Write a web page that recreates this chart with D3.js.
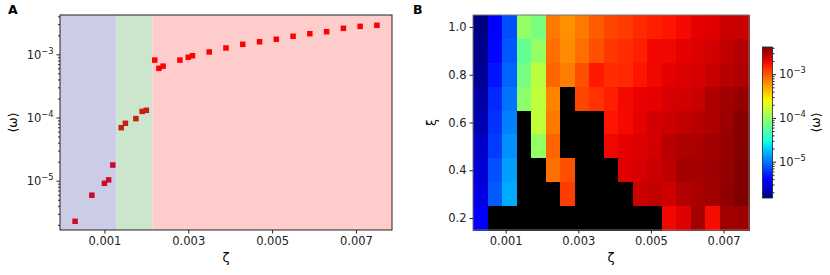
<!DOCTYPE html>
<html>
<head>
<meta charset="utf-8">
<script src="https://cdn.jsdelivr.net/npm/d3@7"></script>
<style>
  body { margin: 0; background: #fff; }
  svg text { font-family: "DejaVu Sans", sans-serif; }
</style>
</head>
<body>
<div id="chart"></div>
<script>
// ---- data, panel A ----
const zetaA = [0.0003, 0.0007, 0.0010, 0.0011, 0.0012, 0.0014, 0.0015, 0.00175, 0.0019, 0.0020,
               0.0022, 0.0023, 0.0024, 0.0028, 0.0030, 0.0031, 0.0035, 0.0039, 0.0043, 0.0047,
               0.0051, 0.0055, 0.0059, 0.0063, 0.0067, 0.0071, 0.0075];
const omegaA = [2.28e-6, 5.9e-6, 9.1e-6, 1.03e-5, 1.77e-5, 6.9e-5, 8.1e-5, 9.6e-5, 1.25e-4, 1.30e-4,
                8.1e-4, 6.0e-4, 6.5e-4, 8.1e-4, 9.0e-4, 9.5e-4, 1.09e-3, 1.26e-3, 1.44e-3, 1.58e-3,
                1.73e-3, 1.93e-3, 2.12e-3, 2.28e-3, 2.58e-3, 2.77e-3, 2.88e-3];
// phase regions (upper edges in zeta)
const bandEdges = [0.00129, 0.00214];
const bandColors = ["#ccccE6", "#cce6cc", "#ffcccc"];
const markerColors = ["#cc0a2a", "#c81e12", "#ff0000"];

// ---- data, panel B ----
const zetaGrid = [0.0003, 0.0007, 0.0011, 0.0015, 0.0019, 0.0023, 0.0027, 0.0031, 0.0035, 0.0039,
                  0.0043, 0.0047, 0.0051, 0.0055, 0.0059, 0.0063, 0.0067, 0.0071, 0.0075];
const xiGrid = [1.0, 0.9, 0.8, 0.7, 0.6, 0.5, 0.4, 0.3, 0.2];
// rows follow xiGrid, null = no value (drawn black)
const omegaGrid = [
  [1.48e-6, 3.69e-6, 7.4e-6, 1.0e-4, 7.6e-5, 7.4e-4, 6.1e-4, 7.4e-4, 9.6e-4, 1.13e-3, 1.23e-3, 1.46e-3, 1.58e-3, 1.73e-3, 1.88e-3, 2.07e-3, 2.14e-3, 2.45e-3, 2.53e-3],
  [1.61e-6, 4.16e-6, 8.0e-6, 6.2e-5, 1.0e-4, 8.1e-4, 6.3e-4, 8.1e-4, 1.04e-3, 1.28e-3, 1.40e-3, 1.58e-3, 1.90e-3, 1.93e-3, 2.05e-3, 2.21e-3, 2.37e-3, 2.62e-3, 2.92e-3],
  [1.72e-6, 4.68e-6, 8.7e-6, 7.6e-5, 1.43e-4, 8.8e-4, 7.1e-4, 1.04e-3, 1.66e-3, 1.40e-3, 1.46e-3, 1.73e-3, 1.93e-3, 2.07e-3, 2.21e-3, 2.29e-3, 2.53e-3, 2.82e-3, 3.01e-3],
  [1.91e-6, 5.44e-6, 9.8e-6, 9.2e-5, 1.49e-4, 6.8e-4, null, 1.13e-3, 1.34e-3, 1.58e-3, 1.88e-3, 2.0e-3, 2.07e-3, 2.29e-3, 2.37e-3, 2.53e-3, 3.01e-3, 3.34e-3, 3.58e-3],
  [2.11e-6, 5.89e-6, 1.09e-5, null, 1.49e-4, 7.4e-4, null, null, null, 1.73e-3, 1.88e-3, 2.05e-3, 2.37e-3, 2.45e-3, 2.62e-3, 2.82e-3, 3.01e-3, 3.44e-3, 3.97e-3],
  [2.42e-6, 6.38e-6, 1.23e-5, null, 1.0e-4, 8.8e-4, null, null, null, 1.93e-3, 2.07e-3, 2.21e-3, 2.37e-3, 2.82e-3, 3.01e-3, 3.10e-3, 3.34e-3, 3.58e-3, 3.97e-3],
  [2.68e-6, 7.42e-6, 1.39e-5, null, null, 8.1e-4, 1.04e-3, null, null, null, 2.14e-3, 2.29e-3, 2.53e-3, 2.72e-3, 3.24e-3, 3.24e-3, 3.44e-3, 3.60e-3, 4.10e-3],
  [2.88e-6, 8.03e-6, 1.5e-5, null, null, null, 1.23e-3, null, null, null, null, 2.45e-3, 2.62e-3, 2.45e-3, 2.92e-3, 3.10e-3, 3.34e-3, 3.70e-3, 4.17e-3],
  [3.43e-6, null, null, null, null, null, null, null, null, null, null, null, null, 1.90e-3, 2.14e-3, 3.24e-3, 1.85e-3, 3.34e-3, 3.44e-3]
];
const colorRange = [1.48e-6, 4.17e-3];

const xTicks = [0.001, 0.003, 0.005, 0.007];
const logTicks = [1e-5, 1e-4, 1e-3];
const xiTicks = [0.2, 0.4, 0.6, 0.8, 1.0];

// ---- layout ----
const width = 830, height = 275;
const fs = 11.5;

const svg = d3.select("#chart").append("svg")
  .attr("width", width).attr("height", height);

// matplotlib jet
const jetSeg = {
  r: [[0, 0], [0.35, 0], [0.66, 1], [0.89, 1], [1, 0.5]],
  g: [[0, 0], [0.125, 0], [0.375, 1], [0.64, 1], [0.91, 0], [1, 0]],
  b: [[0, 0.5], [0.11, 1], [0.34, 1], [0.65, 0], [1, 0]]
};
function seg(pts, t) {
  for (let i = 1; i < pts.length; i++) {
    if (t <= pts[i][0]) {
      const [x0, y0] = pts[i - 1], [x1, y1] = pts[i];
      return y0 + (y1 - y0) * (t - x0) / (x1 - x0);
    }
  }
  return pts[pts.length - 1][1];
}
function jet(t) {
  t = Math.max(0, Math.min(1, t));
  return d3.rgb(seg(jetSeg.r, t) * 255, seg(jetSeg.g, t) * 255, seg(jetSeg.b, t) * 255).formatHex();
}

// minor log ticks between lo and hi
function minorTicks(lo, hi) {
  const out = [];
  for (let e = -7; e <= -1; e++) {
    for (let m = 2; m <= 9; m++) {
      const v = m * Math.pow(10, e);
      if (v >= lo && v <= hi) out.push(v);
    }
  }
  return out;
}

function powLabel(sel) {
  sel.each(function(d) {
    const e = Math.round(Math.log10(d));
    const t = d3.select(this).text("10");
    t.append("tspan").attr("dy", -5).attr("font-size", fs * 0.72)
      .text(String(e).replace("-", "\u2212"));
  });
}

function styleAxis(g) {
  g.attr("font-family", "DejaVu Sans").attr("font-size", fs);
  g.select(".domain").remove();
  g.selectAll(".tick line").attr("stroke", "#222");
  g.selectAll(".tick text").attr("fill", "#222");
}

// ================= panel A =================
const A = { left: 60, right: 392, top: 15, bottom: 230 };
const xA = d3.scaleLinear().domain([-0.00006, 0.00786]).range([A.left, A.right]);
const yA = d3.scaleLog().domain([1.66e-6, 4.19e-3]).range([A.bottom, A.top]);

const gA = svg.append("g");
const edges = [xA.domain()[0], ...bandEdges, xA.domain()[1]];
gA.selectAll(".band").data(bandColors).enter().append("rect")
  .attr("class", "band")
  .attr("x", (d, i) => xA(edges[i]))
  .attr("width", (d, i) => xA(edges[i + 1]) - xA(edges[i]))
  .attr("y", A.top).attr("height", A.bottom - A.top)
  .attr("fill", d => d);

function region(z) {
  let i = 0;
  while (i < bandEdges.length && z > bandEdges[i]) i++;
  return i;
}
const ms = 5.5;
gA.selectAll(".pt").data(zetaA).enter().append("rect")
  .attr("class", "pt")
  .attr("x", d => xA(d) - ms / 2)
  .attr("y", (d, i) => yA(omegaA[i]) - ms / 2)
  .attr("width", ms).attr("height", ms)
  .attr("fill", d => markerColors[region(d)]);

gA.append("rect").attr("x", A.left).attr("y", A.top)
  .attr("width", A.right - A.left).attr("height", A.bottom - A.top)
  .attr("fill", "none").attr("stroke", "#222").attr("stroke-width", 1);

gA.append("g").attr("transform", `translate(0,${A.bottom})`)
  .call(d3.axisBottom(xA).tickValues(xTicks).tickSize(3.5).tickPadding(3).tickFormat(d3.format(".3f")))
  .call(styleAxis);

gA.append("g").attr("transform", `translate(${A.left},0)`)
  .call(d3.axisLeft(yA).tickValues(minorTicks(1.66e-6, 4.19e-3)).tickSize(2).tickFormat(""))
  .call(styleAxis);
gA.append("g").attr("transform", `translate(${A.left},0)`)
  .call(d3.axisLeft(yA).tickValues(logTicks).tickSize(3.5).tickPadding(3))
  .call(styleAxis)
  .selectAll(".tick text").call(powLabel);

gA.append("text").attr("x", (A.left + A.right) / 2).attr("y", 262)
  .attr("text-anchor", "middle").attr("font-size", 13).text("\u03b6");
gA.append("text").attr("transform", `translate(17,${(A.top + A.bottom) / 2}) rotate(-90)`)
  .attr("text-anchor", "middle").attr("font-size", 12.5).text("\u27e8\u03c9\u27e9");
gA.append("text").attr("x", 8).attr("y", 14).attr("font-size", 12.5)
  .attr("font-weight", "bold").text("A");

// ================= panel B =================
const B = { left: 473, right: 749, top: 15, bottom: 230 };
const dz = zetaGrid[1] - zetaGrid[0], dxi = xiGrid[0] - xiGrid[1];
const xB = d3.scaleLinear().domain([zetaGrid[0] - dz / 2, zetaGrid[zetaGrid.length - 1] + dz / 2]).range([B.left, B.right]);
const yB = d3.scaleLinear().domain([xiGrid[xiGrid.length - 1] - dxi / 2, xiGrid[0] + dxi / 2]).range([B.bottom, B.top]);
const cB = d3.scaleLog().domain(colorRange).range([0, 1]).clamp(true);

const cells = [];
omegaGrid.forEach((row, r) => row.forEach((v, c) => cells.push({ z: zetaGrid[c], xi: xiGrid[r], v: v })));

const gB = svg.append("g");
gB.selectAll(".cell").data(cells).enter().append("rect")
  .attr("class", "cell")
  .attr("x", d => xB(d.z - dz / 2))
  .attr("y", d => yB(d.xi + dxi / 2))
  .attr("width", d => xB(d.z + dz / 2) - xB(d.z - dz / 2) + 0.5)
  .attr("height", d => yB(d.xi - dxi / 2) - yB(d.xi + dxi / 2) + 0.5)
  .attr("shape-rendering", "crispEdges")
  .attr("fill", d => d.v == null ? "#000" : jet(cB(d.v)));

gB.append("rect").attr("x", B.left).attr("y", B.top)
  .attr("width", B.right - B.left).attr("height", B.bottom - B.top)
  .attr("fill", "none").attr("stroke", "#777").attr("stroke-width", 1);

gB.append("g").attr("transform", `translate(0,${B.bottom})`)
  .call(d3.axisBottom(xB).tickValues(xTicks).tickSize(3.5).tickPadding(3).tickFormat(d3.format(".3f")))
  .call(styleAxis);
gB.append("g").attr("transform", `translate(${B.left},0)`)
  .call(d3.axisLeft(yB).tickValues(xiTicks).tickSize(3.5).tickPadding(3).tickFormat(d3.format(".1f")))
  .call(styleAxis);

gB.append("text").attr("x", (B.left + B.right) / 2).attr("y", 262)
  .attr("text-anchor", "middle").attr("font-size", 13).text("\u03b6");
gB.append("text").attr("transform", `translate(436,${(B.top + B.bottom) / 2}) rotate(-90)`)
  .attr("text-anchor", "middle").attr("font-size", 12.5).text("\u03be");
gB.append("text").attr("x", 413).attr("y", 14).attr("font-size", 12.5)
  .attr("font-weight", "bold").text("B");

// colorbar
const CB = { left: 762.5, right: 772.5, top: 47, bottom: 198 };
const yC = d3.scaleLog().domain(colorRange).range([CB.bottom, CB.top]);
const grad = svg.append("defs").append("linearGradient").attr("id", "jetgrad")
  .attr("x1", 0).attr("y1", 1).attr("x2", 0).attr("y2", 0);
grad.selectAll("stop").data(d3.range(0, 1.0001, 0.02)).enter().append("stop")
  .attr("offset", d => d).attr("stop-color", d => jet(d));
svg.append("rect").attr("x", CB.left).attr("y", CB.top)
  .attr("width", CB.right - CB.left).attr("height", CB.bottom - CB.top)
  .attr("fill", "url(#jetgrad)").attr("stroke", "#222").attr("stroke-width", 0.8);

svg.append("g").attr("transform", `translate(${CB.right},0)`)
  .call(d3.axisRight(yC).tickValues(minorTicks(colorRange[0], colorRange[1])).tickSize(2).tickFormat(""))
  .call(styleAxis);
svg.append("g").attr("transform", `translate(${CB.right},0)`)
  .call(d3.axisRight(yC).tickValues(logTicks).tickSize(3.5).tickPadding(3))
  .call(styleAxis)
  .selectAll(".tick text").call(powLabel);

svg.append("text").attr("transform", `translate(820,${(CB.top + CB.bottom) / 2}) rotate(-90)`)
  .attr("text-anchor", "middle").attr("font-size", 12.5).text("\u27e8\u03c9\u27e9");
</script>
</body>
</html>
